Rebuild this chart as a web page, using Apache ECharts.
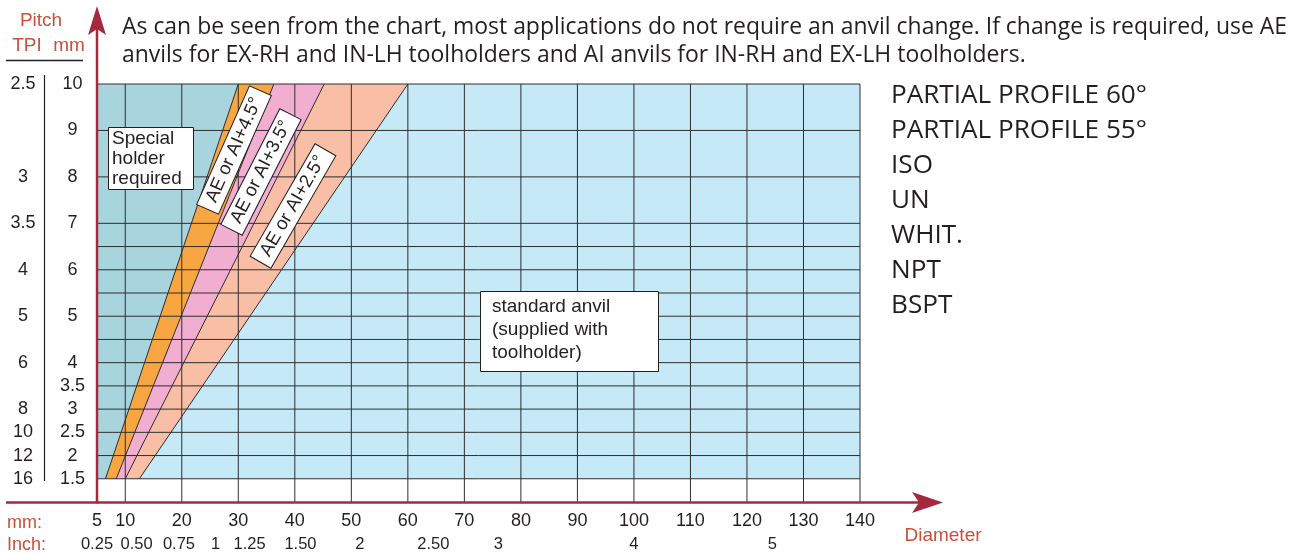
<!DOCTYPE html>
<html>
<head>
<meta charset="utf-8">
<script src="https://cdn.jsdelivr.net/npm/echarts@6/dist/echarts.min.js"></script>
<style>
html, body { margin: 0; padding: 0; background: #fff; }
#chart { width: 1300px; height: 553px; }
</style>
</head>
<body>
<div id="chart"></div>
<script>
// diameter axis (mm)
var mmTicks = [5, 10, 20, 30, 40, 50, 60, 70, 80, 90, 100, 110, 120, 130, 140];
var gridX = [10, 20, 30, 40, 50, 60, 70, 80, 90, 100, 110, 120, 130, 140];
// inch labels and where they sit on the mm scale
var inchLabels = ['0.25', '0.50', '0.75', '1', '1.25', '1.50', '2', '2.50', '3', '4', '5'];
var inchPos = [5, 12, 19.5, 26, 32, 41, 51.5, 64.5, 76, 100, 124.5];
// pitch axis (mm)
var pitchTicks = [1.5, 2, 2.5, 3, 3.5, 4, 5, 6, 7, 8, 9, 10];
var gridY = [1.5, 2, 2.5, 3, 3.5, 4, 4.5, 5, 5.5, 6, 6.5, 7, 8, 9, 10];
var tpiLabels = ['16', '12', '10', '8', '6', '5', '4', '3.5', '3', '2.5'];
var tpiPos = [1.5, 2, 2.5, 3, 4, 5, 6, 7, 8, 10];
// zone edges: diameter at pitch 1.5 and at pitch 10
var edgeBottom = [6.5, 8.4, 10, 12.5];
var edgeTop = [30, 36.3, 45.2, 60];
var pitchRange = [1.5, 10];
var zoneNames = ['Special holder required', 'AE or AI+4.5°', 'AE or AI+3.5°', 'AE or AI+2.5°', 'standard anvil'];
var threadTypes = ['PARTIAL PROFILE 60°', 'PARTIAL PROFILE 55°', 'ISO', 'UN', 'WHIT.', 'NPT', 'BSPT'];

var X_MIN = 5, X_MAX = 140, Y_MIN = 1, Y_MAX = 10;
var zoneColors = ['#a8d4de', '#f7a642', '#f2aed1', '#f9bea6', '#c6e9f8'];
var ink = '#231f20';
var axisRed = '#a5283f';
var labelRed = '#c9503a';
var gridInk = '#2e2e2e';
var sans = '"Liberation Sans", Arial, sans-serif';
var humanist = '"Open Sans", "Noto Sans", sans-serif';

var chart = echarts.init(document.getElementById('chart'), null, { renderer: 'canvas' });

function zonePolygon(i) {
    var lo = pitchRange[0], hi = pitchRange[1];
    var l = i === 0 ? [X_MIN, X_MIN] : [edgeBottom[i - 1], edgeTop[i - 1]];
    var r = i === zoneNames.length - 1 ? [X_MAX, X_MAX] : [edgeBottom[i], edgeTop[i]];
    return [[l[0], lo], [r[0], lo], [r[1], hi], [l[1], hi]];
}

function segments() {
    var out = [];
    gridX.forEach(function (x) { out.push([x, Y_MIN, x, Y_MAX]); });
    gridY.forEach(function (y) { out.push([X_MIN, y, X_MAX, y]); });
    return out;
}

function segItem(color, width) {
    return function (params, api) {
        var a = api.coord([api.value(0), api.value(1)]);
        var b = api.coord([api.value(2), api.value(3)]);
        return {
            type: 'line',
            shape: { x1: a[0], y1: a[1], x2: b[0], y2: b[1] },
            style: { stroke: color, lineWidth: width }
        };
    };
}

// squeeze humanist text to the printed width
var ctx = document.createElement('canvas').getContext('2d');
function fitScale(text, font, target) {
    ctx.font = font;
    return target / ctx.measureText(text).width;
}
var titleFont = '23px ' + humanist;
var title1 = 'As can be seen from the chart, most applications do not require an anvil change. If change is required, use AE';
var title2 = 'anvils for EX-RH and IN-LH toolholders and AI anvils for IN-RH and EX-LH toolholders.';
var titleScale = fitScale(title1, titleFont, 1165);
var typeFont = '25px ' + humanist;
var typeScale = fitScale(threadTypes[0], typeFont, 256);

var graphics = [
    { type: 'text', x: 122, y: 27, scaleX: titleScale, style: { text: title1, font: titleFont, fill: ink, verticalAlign: 'middle' } },
    { type: 'text', x: 122, y: 55, scaleX: titleScale, style: { text: title2, font: titleFont, fill: ink, verticalAlign: 'middle' } },
    // pitch header
    { type: 'text', x: 41, y: 21, style: { text: 'Pitch', font: '19px ' + sans, fill: labelRed, align: 'center', verticalAlign: 'middle' } },
    { type: 'text', x: 27, y: 46, style: { text: 'TPI', font: '19px ' + sans, fill: labelRed, align: 'center', verticalAlign: 'middle' } },
    { type: 'text', x: 69, y: 46, style: { text: 'mm', font: '19px ' + sans, fill: labelRed, align: 'center', verticalAlign: 'middle' } },
    { type: 'line', shape: { x1: 6, y1: 60.5, x2: 83, y2: 60.5 }, style: { stroke: ink, lineWidth: 1.5 } },
    { type: 'line', shape: { x1: 44.5, y1: 75, x2: 44.5, y2: 481 }, style: { stroke: ink, lineWidth: 1.2 } },
    // bottom labels
    { type: 'text', x: 7, y: 523, style: { text: 'mm:', font: '18px ' + sans, fill: labelRed, verticalAlign: 'middle' } },
    { type: 'text', x: 7, y: 545, style: { text: 'Inch:', font: '18px ' + sans, fill: labelRed, verticalAlign: 'middle' } },
    { type: 'text', x: 943, y: 536, style: { text: 'Diameter', font: '19px ' + sans, fill: labelRed, align: 'center', verticalAlign: 'middle' } },
    // red axes with arrows
    { type: 'line', z: 20, shape: { x1: 6, y1: 502.5, x2: 920, y2: 502.5 }, style: { stroke: axisRed, lineWidth: 2.5 } },
    { type: 'polygon', z: 20, shape: { points: [[943, 502.5], [912, 492], [919, 502.5], [912, 513]] }, style: { fill: axisRed } },
    { type: 'line', z: 20, shape: { x1: 97, y1: 503.5, x2: 97, y2: 28 }, style: { stroke: axisRed, lineWidth: 2.5 } },
    { type: 'polygon', z: 20, shape: { points: [[97, 6], [106, 35], [97, 29], [88, 35]] }, style: { fill: axisRed } },
    // zone notes
    { type: 'rect', z: 30, shape: { x: 108.5, y: 127.5, width: 85, height: 62 }, style: { fill: '#fff', stroke: ink, lineWidth: 1 } },
    { type: 'text', z: 31, x: 112, y: 129, style: { text: 'Special\nholder\nrequired', font: '19px ' + sans, lineHeight: 20, fill: ink } },
    { type: 'rect', z: 30, shape: { x: 480.5, y: 291.5, width: 178, height: 80 }, style: { fill: '#fff', stroke: ink, lineWidth: 1 } },
    { type: 'text', z: 31, x: 492, y: 295, style: { text: 'standard anvil\n(supplied with\ntoolholder)', font: '19px ' + sans, lineHeight: 23, fill: ink } }
];

var tagCenters = [[234, 150], [261, 172], [293, 206]];
var tagAngles = [66, 63, 60];
tagCenters.forEach(function (c, i) {
    graphics.push({
        type: 'text', z: 32, x: c[0], y: c[1], rotation: tagAngles[i] * Math.PI / 180,
        style: {
            text: zoneNames[i + 1], font: '18.5px ' + sans, fill: ink,
            align: 'center', verticalAlign: 'middle',
            backgroundColor: '#fff', borderColor: ink, borderWidth: 1, padding: [2, 8]
        }
    });
});

threadTypes.forEach(function (t, i) {
    graphics.push({ type: 'text', x: 891, y: 96 + i * 35, scaleX: typeScale, style: { text: t, font: typeFont, fill: ink, verticalAlign: 'middle' } });
});

chart.setOption({
    animation: false,
    grid: { left: 97, right: 440, top: 84, bottom: 51 },
    xAxis: [
        {
            type: 'value', min: X_MIN, max: X_MAX,
            axisLine: { show: false }, axisTick: { show: false }, splitLine: { show: false },
            axisLabel: { customValues: mmTicks, color: ink, fontSize: 18, fontFamily: sans, margin: 10 }
        },
        {
            type: 'value', min: X_MIN, max: X_MAX, position: 'bottom',
            axisLine: { show: false }, axisTick: { show: false }, splitLine: { show: false },
            axisLabel: {
                customValues: inchPos, color: ink, fontSize: 16.5, fontFamily: sans, margin: 34,
                formatter: function (v) {
                    for (var i = 0; i < inchPos.length; i++) if (Math.abs(inchPos[i] - v) < 1e-6) return inchLabels[i];
                    return '';
                }
            }
        }
    ],
    yAxis: [
        {
            type: 'value', min: Y_MIN, max: Y_MAX,
            axisLine: { show: false }, axisTick: { show: false }, splitLine: { show: false },
            axisLabel: { customValues: pitchTicks, color: ink, fontSize: 18, fontFamily: sans, margin: 24.5, align: 'center' }
        },
        {
            type: 'value', min: Y_MIN, max: Y_MAX, position: 'left',
            axisLine: { show: false }, axisTick: { show: false }, splitLine: { show: false },
            axisLabel: {
                customValues: tpiPos, color: ink, fontSize: 18, fontFamily: sans, margin: 74, align: 'center',
                formatter: function (v) {
                    for (var i = 0; i < tpiPos.length; i++) if (Math.abs(tpiPos[i] - v) < 1e-6) return tpiLabels[i];
                    return '';
                }
            }
        }
    ],
    series: [
        {
            type: 'custom', name: 'zones', z: 1, silent: true,
            data: zoneNames.map(function (n, i) { return [i]; }),
            renderItem: function (params, api) {
                var i = api.value(0);
                var pts = zonePolygon(i).map(function (p) { return api.coord(p); });
                return { type: 'polygon', shape: { points: pts }, style: { fill: zoneColors[i] } };
            }
        },
        {
            type: 'custom', name: 'grid', z: 2, silent: true,
            data: segments(),
            renderItem: segItem(gridInk, 1)
        },
        {
            type: 'custom', name: 'edges', z: 3, silent: true,
            data: edgeBottom.map(function (b, i) { return [b, pitchRange[0], edgeTop[i], pitchRange[1]]; }),
            renderItem: segItem('#2a2a2a', 1)
        }
    ],
    graphic: graphics
});

window.addEventListener('resize', function () { chart.resize(); });
</script>
</body>
</html>
